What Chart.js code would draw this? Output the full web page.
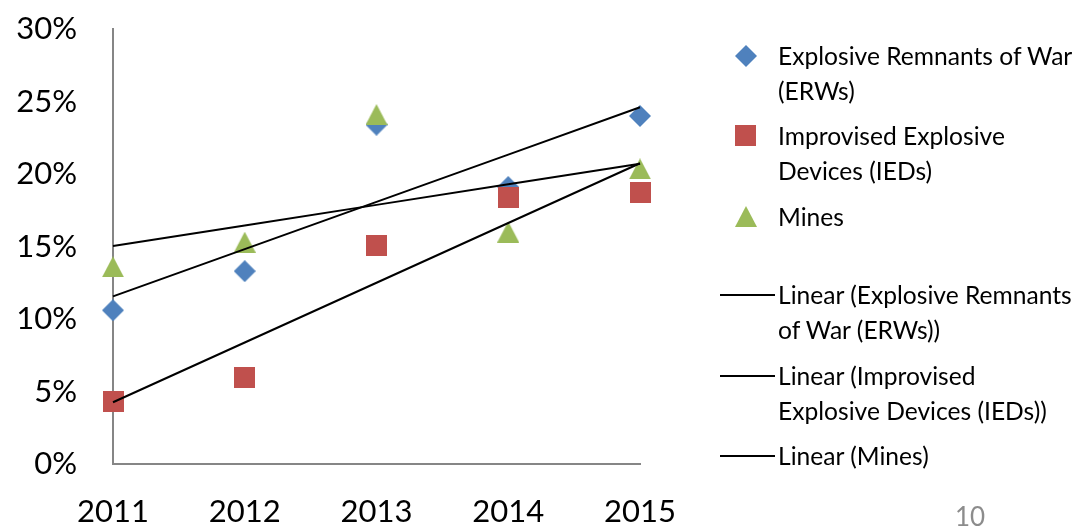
<!DOCTYPE html>
<html><head><meta charset="utf-8">
<script src="https://cdn.jsdelivr.net/npm/chart.js@4/dist/chart.umd.min.js"></script>
<style>
html,body{margin:0;padding:0;background:#fff;overflow:hidden}
#wrap{position:relative;width:1076px;height:527px;background:#fff}
#c{position:absolute;left:0;top:0}
.leg{position:absolute;left:778px;font-family:Lato,sans-serif;font-size:24.6px;line-height:35px;color:#000;white-space:nowrap}
.mk{position:absolute}
.ln{position:absolute;left:720px;width:55px;height:0;border-top:2px solid #000}
#pg{position:absolute;left:955px;top:500px;font-family:Lato,sans-serif;font-size:26px;color:#8c8c8c}
</style></head>
<body><div id="wrap">
<canvas id="c" width="1076" height="527"></canvas>
<canvas class="mk" id="m1" width="22" height="22" style="left:735px;top:45px"></canvas>
<div class="leg" style="top:38px">Explosive Remnants of War<br>(ERWs)</div>
<canvas class="mk" id="m2" width="21" height="21" style="left:735px;top:125px"></canvas>
<div class="leg" style="top:118px">Improvised Explosive<br>Devices (IEDs)</div>
<canvas class="mk" id="m3" width="22" height="21" style="left:735px;top:206px"></canvas>
<div class="leg" style="top:199px">Mines</div>
<div class="ln" style="top:294px"></div>
<div class="leg" style="top:277px">Linear (Explosive Remnants<br>of War (ERWs))</div>
<div class="ln" style="top:375px"></div>
<div class="leg" style="top:358px">Linear (Improvised<br>Explosive Devices (IEDs))</div>
<div class="ln" style="top:455px"></div>
<div class="leg" style="top:438px">Linear (Mines)</div>
<div id="pg">10</div>
</div>
<script>
const years = ['2011', '2012', '2013', '2014', '2015'];
const erwValues = [10.6, 13.3, 23.4, 19.1, 24.0];
const iedValues = [4.3, 6.0, 15.1, 18.4, 18.7];
const minesValues = [13.6, 15.3, 24.1, 16.0, 20.35];
const yTickValues = [0, 5, 10, 15, 20, 25, 30];

const BLUE = '#4F81BD', RED = '#C0504D', GREEN = '#9BBB59';

function linearTrend(v) {
  const n = v.length, mx = (n - 1) / 2;
  const my = v.reduce((a, b) => a + b, 0) / n;
  let sxy = 0, sxx = 0;
  v.forEach((y, i) => { sxy += (i - mx) * (y - my); sxx += (i - mx) * (i - mx); });
  const b = sxy / sxx, a = my - b * mx;
  return v.map((_, i) => a + b * i);
}

function drawDiamond(cv, color) {
  const g = cv.getContext('2d'), w = cv.width, h = cv.height;
  g.fillStyle = color; g.beginPath();
  g.moveTo(w / 2, 0); g.lineTo(w, h / 2); g.lineTo(w / 2, h); g.lineTo(0, h / 2); g.closePath(); g.fill();
  return cv;
}
function drawSquare(cv, color) {
  const g = cv.getContext('2d');
  g.fillStyle = color; g.fillRect(0, 0, cv.width, cv.height);
  return cv;
}
function drawTriangle(cv, color) {
  const g = cv.getContext('2d'), w = cv.width, h = cv.height;
  g.fillStyle = color; g.beginPath();
  g.moveTo(w / 2, 0); g.lineTo(w, h); g.lineTo(0, h); g.closePath(); g.fill();
  return cv;
}
function mk(w, h) { const c = document.createElement('canvas'); c.width = w; c.height = h; return c; }

const diamondImg = drawDiamond(mk(22, 22), BLUE);
const squareImg = drawSquare(mk(21, 21), RED);
const triangleImg = drawTriangle(mk(22, 21), GREEN);
drawDiamond(document.getElementById('m1'), BLUE);
drawSquare(document.getElementById('m2'), RED);
drawTriangle(document.getElementById('m3'), GREEN);

const font = { family: 'Lato, sans-serif', size: 31 };

function markerSet(label, data, img, order) {
  return { label, data, showLine: false, pointStyle: img, pointRadius: 10, pointHoverRadius: 10,
           order, clip: false, borderColor: 'transparent', backgroundColor: 'transparent' };
}
function trendSet(label, data) {
  return { label, data, borderColor: '#000', borderWidth: 2, pointRadius: 0, pointHoverRadius: 0,
           fill: false, tension: 0, order: 0, clip: false };
}

new Chart(document.getElementById('c'), {
  type: 'line',
  data: {
    labels: years,
    datasets: [
      markerSet('Explosive Remnants of War (ERWs)', erwValues, diamondImg, 3),
      markerSet('Improvised Explosive Devices (IEDs)', iedValues, squareImg, 2),
      markerSet('Mines', minesValues, triangleImg, 1),
      trendSet('Linear (Explosive Remnants of War (ERWs))', linearTrend(erwValues)),
      trendSet('Linear (Improvised Explosive Devices (IEDs))', linearTrend(iedValues)),
      trendSet('Linear (Mines)', linearTrend(minesValues))
    ]
  },
  options: {
    responsive: false,
    animation: false,
    events: [],
    layout: { padding: { top: 29, right: 436, left: 0, bottom: 0 } },
    plugins: { legend: { display: false }, tooltip: { enabled: false } },
    scales: {
      x: {
        offset: false,
        grid: { display: false, drawTicks: false },
        border: { display: true, color: '#868686', width: 2 },
        ticks: { color: '#000', font, padding: 29, maxRotation: 0, autoSkip: false },
        afterFit: s => { s.height = 63; s.paddingLeft = 0; s.paddingRight = 0; }
      },
      y: {
        min: 0, max: 30,
        afterBuildTicks: s => { s.ticks = yTickValues.map(v => ({ value: v })); },
        grid: { display: false, drawTicks: false },
        border: { display: true, color: '#868686', width: 2 },
        ticks: { color: '#000', font, padding: 36, callback: v => v + '%' },
        afterFit: s => { s.width = 113; s.paddingTop = 0; s.paddingBottom = 0; }
      }
    }
  }
});
</script>
</body></html>
